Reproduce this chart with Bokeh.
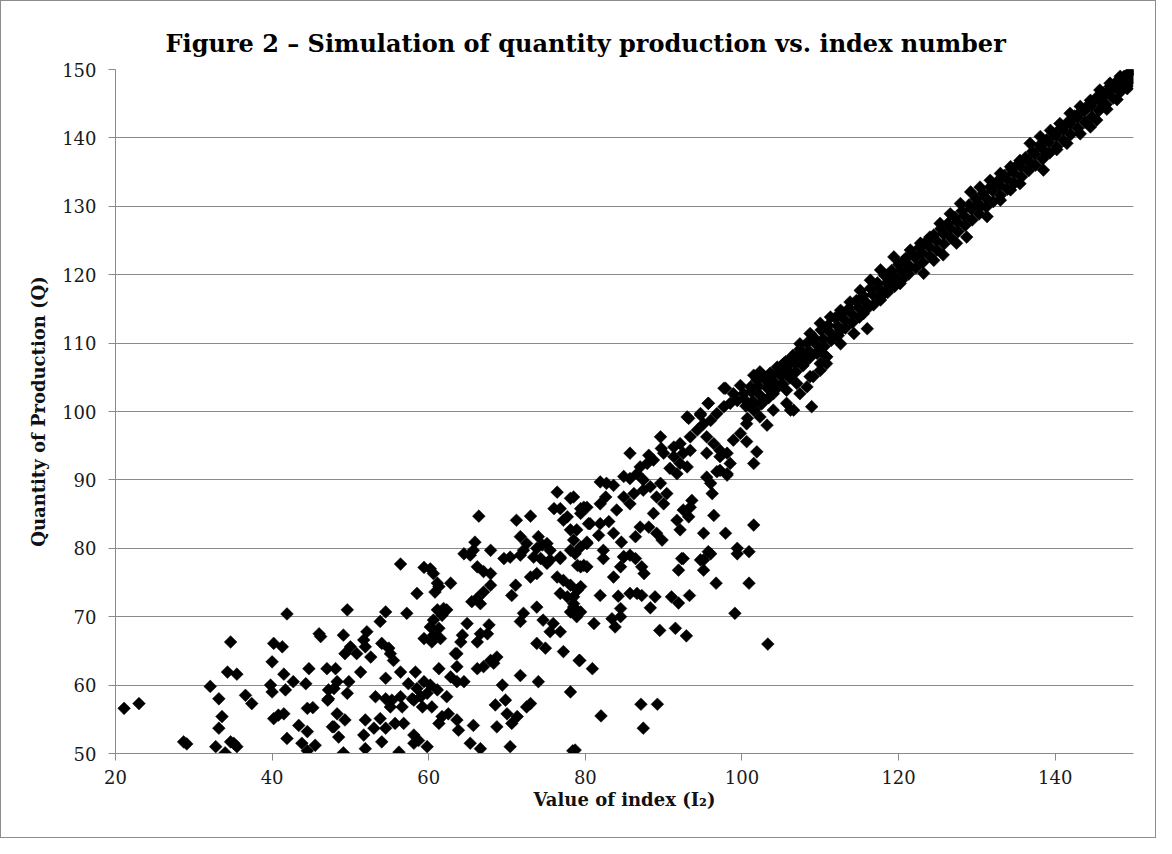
import math
from bokeh.plotting import figure
from bokeh.models import Range1d, FixedTicker
from bokeh.embed import file_html
from bokeh.resources import INLINE

title_text = "Figure 2 \u2013 Simulation of quantity production vs. index number"
x_label = "Value of index (I\u2082)"
y_label = "Quantity of Production (Q)"
x_ticks = [20, 40, 60, 80, 100, 120, 140]
y_ticks = [50, 60, 70, 80, 90, 100, 110, 120, 130, 140, 150]

# (index value, quantity) pairs, by region
low_left = [
    (21.1, 56.6), (23.0, 57.3), (28.7, 51.7), (29.1, 51.4), (32.1, 59.8), (33.2, 58.0), (33.6, 55.4),
    (33.2, 53.7), (32.8, 51.0), (34.0, 50.1), (34.7, 66.3), (34.3, 61.9), (35.5, 61.6), (34.7, 51.7),
    (35.5, 51.0), (35.1, 51.5), (36.6, 58.5), (37.4, 57.3), (40.0, 63.4), (40.2, 66.1), (41.3, 65.6),
    (41.9, 70.4), (39.8, 60.0), (40.0, 59.0), (40.2, 55.1), (40.8, 55.6), (41.5, 55.8), (41.5, 61.6),
    (41.7, 59.3), (42.7, 60.5), (41.9, 52.2), (43.4, 54.1), (44.5, 53.2), (43.8, 51.5), (44.5, 50.4),
    (44.5, 56.6), (45.2, 56.7), (44.3, 60.2), (44.7, 62.4), (45.5, 51.2), (46.0, 67.5), (46.2, 67.1),
    (47.0, 62.4), (47.2, 59.3), (47.1, 57.8), (47.7, 53.9),
]
low_mid = [
    (56.4, 77.7), (59.4, 77.2), (60.2, 77.0), (60.6, 76.3), (61.1, 74.9), (61.3, 74.4), (60.8, 73.6),
    (62.8, 74.9), (58.5, 73.4), (64.5, 79.2), (65.3, 79.0), (66.2, 77.3), (67.0, 76.6), (67.9, 76.3),
    (67.9, 74.6), (67.0, 73.6), (66.2, 72.7), (65.5, 72.2), (66.6, 71.9), (69.6, 78.5), (70.4, 78.7),
    (71.7, 79.0), (71.1, 74.6), (70.6, 73.1), (73.0, 75.8), (73.8, 76.3), (74.3, 78.5), (75.5, 78.3),
    (76.8, 78.5), (79.0, 77.5), (76.4, 75.8), (77.2, 75.3), (78.1, 74.6), (76.8, 73.4), (77.7, 72.9),
    (78.5, 71.9), (78.1, 70.7), (78.9, 70.0), (73.8, 71.4), (72.1, 70.5), (71.7, 69.3), (74.6, 69.5),
    (75.9, 69.0), (75.5, 67.8), (76.8, 67.8), (73.8, 66.1), (74.9, 65.4), (77.2, 64.9), (79.2, 63.6),
    (71.7, 61.4), (74.0, 60.5), (78.1, 59.0), (69.4, 60.0), (68.5, 57.1), (69.8, 57.8), (70.0, 55.8),
    (71.3, 55.4), (70.6, 54.4), (73.0, 57.3), (72.5, 56.8), (68.7, 53.9), (70.4, 51.0), (78.4, 50.4),
    (64.9, 69.0), (64.3, 67.3), (64.1, 66.3), (63.6, 64.6), (66.2, 66.3), (66.6, 67.5), (67.7, 68.8),
    (67.5, 67.5), (61.1, 71.0), (61.7, 70.2), (60.6, 69.5), (60.2, 68.5), (61.3, 68.3), (60.6, 67.3),
    (61.5, 66.8), (59.4, 66.8), (60.4, 66.3), (61.9, 71.2), (62.3, 71.0), (57.2, 70.5), (54.5, 70.7),
    (53.8, 69.3), (49.6, 71.0), (52.1, 67.8), (51.7, 66.6), (51.9, 65.6), (50.8, 64.6), (49.1, 67.3),
    (50.0, 65.6), (49.3, 64.6), (54.0, 66.1), (54.9, 65.4), (55.1, 64.6), (55.5, 63.6), (52.6, 64.1),
    (48.1, 62.4), (48.3, 60.5), (47.9, 59.5), (47.2, 58.0), (49.8, 60.5), (49.6, 58.8), (51.3, 61.9),
    (54.5, 61.0), (56.4, 61.9), (58.3, 61.9), (57.4, 60.2), (58.5, 59.5), (59.4, 60.5), (60.2, 60.0),
    (61.3, 62.4), (61.1, 59.3), (59.8, 58.8), (59.0, 58.3), (58.1, 57.8), (62.8, 61.2), (63.6, 60.5),
    (64.5, 60.5), (63.6, 62.7), (63.4, 64.6), (66.2, 62.4), (67.0, 62.7), (67.9, 63.6), (68.7, 64.1),
    (68.3, 63.2), (53.2, 58.3), (54.5, 58.0), (55.3, 57.8), (56.4, 58.3), (56.6, 56.8), (55.1, 56.8),
    (57.9, 58.0), (59.2, 56.8), (60.4, 56.8), (62.3, 58.3), (61.7, 55.4), (61.3, 54.4), (62.5, 55.8),
    (63.6, 54.9), (63.8, 53.4), (65.7, 54.1), (65.3, 51.5), (66.6, 50.7), (48.3, 55.8), (49.3, 54.9),
    (47.9, 53.9), (48.5, 52.4), (49.1, 50.1), (51.9, 54.9), (53.0, 53.7), (53.8, 55.1), (54.5, 53.7),
    (51.7, 52.7), (54.0, 51.7), (51.9, 50.7), (55.7, 54.4), (56.8, 54.4), (56.2, 50.2), (58.1, 52.7),
    (58.7, 51.9), (58.1, 51.5), (59.8, 51.0),
]
low_right = [
    (82.3, 78.5), (84.9, 78.8), (86.4, 78.5), (87.2, 77.3), (87.5, 76.3), (84.5, 77.3), (83.6, 75.8),
    (79.8, 77.5), (92.3, 78.5), (91.9, 76.8), (95.1, 78.3), (95.1, 76.8), (96.0, 79.2), (99.4, 79.2),
    (96.7, 74.9), (100.9, 74.9), (99.1, 70.5), (103.3, 66.0), (81.9, 73.1), (84.2, 73.0), (85.7, 73.4),
    (86.6, 73.4), (87.2, 73.1), (88.9, 72.9), (88.3, 71.3), (91.0, 72.9), (91.9, 72.0), (93.3, 73.1),
    (79.0, 73.9), (79.4, 74.4), (78.5, 72.9), (78.5, 71.4), (79.4, 70.7), (81.1, 69.0), (83.4, 69.7),
    (83.8, 68.5), (84.5, 71.2), (84.5, 70.0), (89.5, 68.0), (91.5, 68.3), (92.9, 67.2), (79.3, 63.6),
    (80.9, 62.4), (87.1, 57.2), (89.2, 57.2), (82.0, 55.5), (87.4, 53.7), (78.7, 50.5),
]
mid_cloud = [
    (76.4, 88.2), (78.1, 87.3), (76.0, 85.8), (76.8, 85.8), (77.7, 84.6), (79.4, 85.8), (80.2, 86.0),
    (80.4, 83.6), (77.2, 84.1), (66.4, 84.7), (71.2, 84.1), (73.0, 84.7), (71.7, 81.7), (72.5, 80.7),
    (72.1, 79.7), (74.0, 81.7), (74.5, 80.5), (73.8, 80.0), (75.1, 80.7), (75.5, 79.7), (78.1, 82.7),
    (78.9, 82.7), (78.5, 81.2), (78.1, 79.7), (78.7, 79.2), (80.2, 80.9), (79.4, 77.3), (80.2, 77.3),
    (65.9, 80.9), (65.7, 79.7), (67.9, 79.7), (73.4, 78.7), (75.1, 77.8), (76.8, 78.7),
    (82.6, 87.5), (81.9, 86.5), (79.8, 86.0), (79.4, 85.1), (80.6, 83.6), (81.9, 83.6), (83.0, 83.9),
    (80.2, 80.7), (81.7, 81.9), (83.6, 82.2), (84.0, 85.6), (85.7, 86.5), (84.9, 87.5), (86.2, 88.0),
    (87.4, 88.5), (88.3, 89.0), (89.6, 89.5), (89.1, 87.5), (90.4, 88.0), (90.0, 86.5), (88.7, 85.1),
    (88.1, 83.1), (89.1, 82.2), (89.8, 81.2), (91.7, 84.1), (92.1, 82.7), (92.5, 85.6), (93.6, 87.0),
    (93.4, 86.0), (93.2, 84.6), (95.5, 90.4), (96.0, 89.5), (96.2, 88.0), (97.2, 91.4), (98.1, 90.9),
    (96.4, 84.8), (95.1, 82.2), (97.9, 82.2), (101.5, 83.4), (99.4, 80.0), (100.9, 79.5), (95.7, 79.5),
    (92.5, 78.5), (94.7, 78.3), (85.7, 79.0), (84.6, 80.9), (86.4, 81.7), (87.0, 83.1), (82.3, 79.7),
    (84.9, 78.7), (79.4, 80.2), (78.5, 87.5),
    (97.9, 103.4), (95.7, 101.2), (93.2, 99.0), (94.7, 99.5), (89.6, 96.3), (89.7, 94.6), (85.7, 93.9),
    (88.1, 93.6), (88.7, 92.9), (87.9, 92.4), (91.3, 93.4), (92.5, 93.9), (93.4, 94.3), (92.1, 92.4),
    (90.8, 91.7), (93.0, 91.9), (91.7, 90.9), (81.9, 89.7), (82.7, 89.5), (83.6, 89.2), (84.9, 90.5),
    (85.7, 90.2), (86.6, 90.9), (87.0, 91.9), (87.4, 90.0),
    (90.0, 93.9), (91.3, 94.8), (92.1, 95.3), (93.4, 96.3), (94.3, 97.3), (95.1, 98.2), (96.0, 98.7),
    (96.8, 99.7), (97.7, 100.7), (98.5, 101.2), (99.4, 101.6), (95.5, 96.3), (96.4, 95.3), (97.2, 94.3),
    (98.1, 93.9), (98.9, 95.8), (99.8, 96.8), (100.6, 95.6), (101.9, 94.1), (101.5, 92.4), (97.2, 93.4),
    (95.5, 93.9), (98.5, 92.4), (96.8, 91.2), (98.1, 90.7), (93.0, 99.2), (94.7, 99.7), (95.7, 101.2),
    (97.7, 103.4), (98.9, 102.6), (99.8, 103.8),
]
band = [
    (100.2, 102.6), (101.1, 103.6), (101.9, 104.6), (102.8, 105.1), (103.6, 105.6), (104.5, 106.5),
    (105.3, 107.0), (106.2, 107.5), (107.0, 108.0), (108.3, 108.2), (109.6, 108.5), (110.8, 108.0),
    (100.6, 98.2), (102.3, 99.2), (103.2, 98.0), (104.0, 100.2), (105.7, 101.2), (106.6, 100.2),
    (107.4, 102.6), (108.3, 103.6), (108.9, 100.7), (109.1, 105.1), (110.0, 106.0), (110.8, 107.0),
    (101.5, 105.3), (102.3, 105.8), (103.6, 104.6), (104.9, 105.6), (105.7, 106.5), (106.6, 108.0),
    (107.4, 109.9), (108.7, 111.4), (110.0, 112.9), (111.3, 113.8), (112.6, 114.8), (113.8, 116.0),
    (115.1, 117.7), (116.4, 119.2), (117.7, 120.7), (119.4, 122.6), (120.7, 122.1), (121.5, 123.6),
    (101.5, 100.2), (102.8, 101.6), (104.0, 102.6), (105.7, 103.1), (107.0, 104.1), (108.7, 105.1),
    (106.2, 100.2), (110.0, 107.0), (110.8, 108.0), (112.6, 109.9), (114.3, 111.4), (116.0, 112.1),
    (115.5, 114.3), (117.7, 116.3), (118.5, 117.7), (120.2, 118.7), (121.1, 120.2), (112.6, 111.9),
    (110.0, 109.0), (107.9, 107.0),
    (122.8, 124.6), (124.0, 125.5), (125.3, 127.5), (126.6, 128.9), (127.9, 130.4), (129.2, 132.1),
    (130.4, 132.8), (131.7, 133.8), (133.0, 134.8), (134.3, 135.8), (135.5, 136.7), (136.8, 139.2),
    (138.1, 140.2), (139.4, 141.1), (140.6, 142.1), (141.9, 143.6), (143.2, 144.6), (144.5, 145.5),
    (145.7, 147.0), (147.0, 148.0), (148.3, 149.0), (149.6, 149.7), (149.8, 149.9),
    (123.2, 120.2), (125.7, 122.9), (127.4, 124.6), (128.7, 125.5), (131.3, 128.5), (133.0, 130.9),
    (134.3, 132.4), (135.5, 133.3), (138.5, 135.3), (138.9, 137.7), (141.5, 139.2), (143.2, 140.6),
    (145.3, 142.6), (146.6, 144.2), (147.9, 145.6), (149.2, 147.2), (118.9, 119.2), (121.1, 120.7),
    (124.5, 122.1), (130.4, 129.9), (136.8, 136.3), (140.2, 138.3), (144.5, 141.6), (146.1, 145.1),
    (100.3, 101.8), (100.7, 99.0), (101.2, 102.9), (101.6, 100.3), (102.1, 103.7), (102.5, 101.1),
    (103.0, 104.6), (103.4, 102.0), (103.9, 105.3), (104.3, 103.2), (104.8, 106.4), (105.2, 104.0),
    (105.6, 107.3), (106.1, 104.9), (106.5, 108.2), (106.9, 105.8), (107.4, 109.1), (107.8, 106.7),
    (108.3, 110.0), (108.7, 107.9), (109.2, 110.8), (109.6, 108.6), (110.1, 111.9), (110.5, 109.5),
    (111.0, 112.6), (111.4, 110.4), (111.9, 113.7), (112.3, 111.1), (112.8, 114.4), (113.2, 112.2),
    (113.7, 115.1), (114.1, 113.0), (114.6, 116.2), (115.0, 113.8), (115.5, 116.9), (115.9, 114.9),
    (116.4, 118.0), (116.8, 115.6), (117.3, 118.8), (117.7, 116.7), (118.2, 119.9), (118.6, 117.4),
    (119.1, 120.6), (119.5, 118.3), (120.0, 121.5), (120.4, 119.2), (120.9, 122.4), (121.3, 120.1),
    (121.8, 123.1), (122.2, 121.0), (122.7, 124.0), (123.1, 121.8), (123.6, 124.9), (124.0, 122.7),
    (124.5, 125.8), (124.9, 123.6), (125.4, 126.7), (125.8, 124.5), (126.3, 127.5), (126.7, 125.4),
    (127.2, 128.4), (127.6, 126.3), (128.1, 129.3), (128.5, 127.2), (129.0, 130.2), (129.4, 128.0),
    (129.9, 131.1), (130.3, 128.9), (130.8, 131.9), (131.2, 129.9), (131.7, 132.8), (132.1, 130.7),
    (132.6, 133.6), (133.0, 131.6), (133.5, 134.5), (133.9, 132.5), (134.4, 135.4), (134.8, 133.4),
    (135.3, 136.2), (135.7, 134.3), (136.2, 137.1), (136.6, 135.2), (137.1, 138.0), (137.5, 136.0),
    (138.0, 138.9), (138.4, 136.9), (138.9, 139.7), (139.3, 137.8), (139.8, 140.6), (140.2, 138.7),
    (140.7, 141.4), (141.1, 139.6), (141.6, 142.3), (142.0, 140.5), (142.5, 143.2), (142.9, 141.4),
    (143.4, 144.0), (143.8, 142.3), (144.3, 144.9), (144.7, 143.1), (145.2, 145.8), (145.6, 144.0),
    (146.1, 146.6), (146.5, 144.9), (147.0, 147.5), (147.4, 145.8), (147.9, 148.3), (148.3, 146.7),
    (148.8, 149.0), (149.2, 147.6), (149.6, 149.7), (149.8, 148.6),
    (100.5, 100.8), (101.4, 101.5), (102.3, 102.4), (103.2, 103.5), (104.1, 104.3), (105.0, 105.2),
    (105.9, 106.0), (106.8, 107.0), (107.7, 107.9), (108.6, 108.8), (109.5, 109.8), (110.4, 110.6),
    (111.3, 111.5), (112.2, 112.5), (113.1, 113.4), (114.0, 114.3), (114.9, 115.2), (115.8, 116.0),
    (116.7, 117.1), (117.6, 117.9), (118.5, 118.8), (119.4, 119.8), (120.3, 120.6), (121.2, 121.5),
    (122.1, 122.5), (123.0, 123.2), (123.9, 124.1), (124.8, 125.0), (125.7, 126.0), (126.6, 126.8),
    (127.5, 127.7), (128.4, 128.6), (129.3, 129.6), (130.2, 130.4), (131.1, 131.3), (132.0, 132.3),
    (132.9, 133.1), (133.8, 134.0), (134.7, 134.9), (135.6, 135.8), (136.5, 136.7), (137.4, 137.6),
    (138.3, 138.5), (139.2, 139.4), (140.1, 140.3), (141.0, 141.2), (141.9, 142.1), (142.8, 143.0),
    (143.7, 143.9), (144.6, 144.7), (145.5, 145.6), (146.4, 146.4), (147.3, 147.2), (148.2, 148.0),
    (149.1, 148.9),
]

points = low_left + low_mid + low_right + mid_cloud + band
index_values = [pt[0] for pt in points]
quantities = [pt[1] for pt in points]

GRAY = "#8a8a8a"
SERIF = "DejaVu Serif"

p = figure(width=1156, height=838, output_backend="svg", toolbar_location=None,
           x_range=Range1d(20, 150), y_range=Range1d(50, 150),
           min_border_left=114, min_border_right=24, min_border_top=68, min_border_bottom=86,
           title=title_text)
p.styles = {"border": "1px solid #8c8c8c"}
p.background_fill_color = "white"
p.border_fill_color = "white"
p.outline_line_color = None

p.title.align = "left"
p.title.offset = 50
p.title.text_font = SERIF
p.title.text_font_style = "bold"
p.title.text_font_size = "24px"
p.title.text_color = "black"
p.title.standoff = 24

p.scatter(index_values, quantities, marker="square", angle=math.pi / 4, size=9,
          fill_color="black", line_color="black", line_width=0.5)

for ax in (p.xaxis[0], p.yaxis[0]):
    ax.axis_line_color = GRAY
    ax.major_tick_line_color = GRAY
    ax.major_tick_out = 7
    ax.major_tick_in = 0
    ax.minor_tick_line_color = None
    ax.major_label_text_font = SERIF
    ax.major_label_text_font_size = "18px"
    ax.major_label_text_color = "#1a1a1a"
    ax.axis_label_text_font = SERIF
    ax.axis_label_text_font_style = "bold"
    ax.axis_label_text_font_size = "18px"
    ax.axis_label_text_color = "#111111"

p.xaxis.ticker = FixedTicker(ticks=x_ticks)
p.yaxis.ticker = FixedTicker(ticks=y_ticks)
p.xaxis.axis_label = x_label
p.yaxis.axis_label = y_label
p.xaxis.major_label_standoff = 9
p.yaxis.major_label_standoff = 12
p.xaxis.axis_label_standoff = 2
p.yaxis.axis_label_standoff = 10

p.xgrid.visible = False
p.ygrid.grid_line_color = GRAY
p.ygrid.grid_line_width = 1

open("out.html", "w").write(file_html(p, INLINE))
